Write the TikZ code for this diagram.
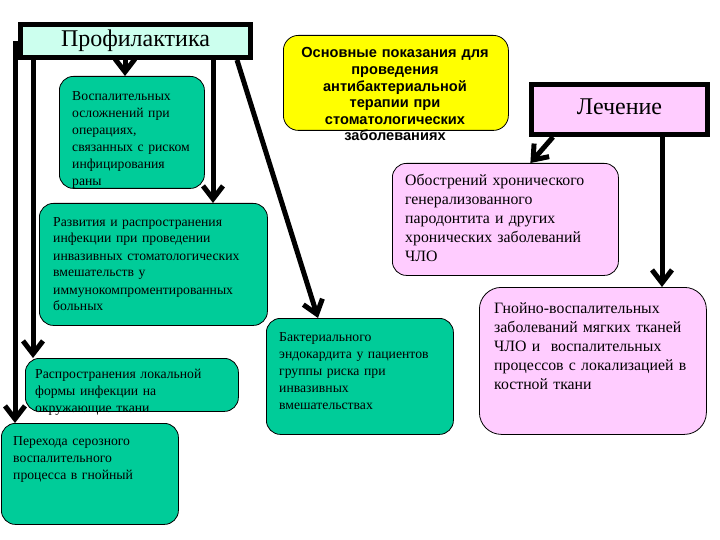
\documentclass[tikz,border=0pt]{standalone}
\usepackage{fontspec}
\setmainfont{Liberation Serif}
\setsansfont{Liberation Sans}
\usetikzlibrary{arrows.meta}
\definecolor{profcol}{RGB}{204,255,238}
\definecolor{tealcol}{RGB}{0,204,153}
\definecolor{pinkcol}{RGB}{255,204,255}
\definecolor{yelcol}{RGB}{255,255,0}
\begin{document}
\begin{tikzpicture}[x=1pt, y=-1pt, >={Straight Barb[length=13pt,width=20pt]},
  conn/.style={->, line width=5pt},
  head/.style={draw, line width=5pt, font=\fontsize{24}{28}\selectfont},
  card/.style={draw, line width=0.8pt, rounded corners=14pt, anchor=north west, inner sep=0pt},
  txt/.style={anchor=base west, inner sep=0pt, text width=240pt, align=left, font=\fontsize{13.7}{17}\selectfont},
  bigtxt/.style={anchor=base west, inner sep=0pt, text width=240pt, align=left, font=\fontsize{15.8}{19}\selectfont}]
\useasboundingbox (0,0) rectangle (720,540);

\node[head, fill=profcol, minimum width=230pt, minimum height=33pt] (prof) at (135.5,41) {Профилактика};
\node[head, fill=pinkcol, minimum width=176pt, minimum height=50pt] (lech) at (619.5,109.5) {\raisebox{5pt}{Лечение}};

\node[card, fill=yelcol, rounded corners=15pt, minimum width=225pt, minimum height=95pt] (osn) at (283,35) {};
\node[anchor=base, inner sep=0pt, text width=240pt, align=center, font=\sffamily\bfseries\fontsize{14.6}{16.6}\selectfont] (osntxt) at (395,58)
  {Основные показания для\\проведения\\антибактериальной\\терапии при\\стоматологических\\заболеваниях};

\node[card, fill=tealcol, minimum width=145pt, minimum height=112pt] (vosp) at (59,76) {};
\node[txt] (vosptxt) at (72,101) {Воспалительных\\осложнений при\\операциях,\\связанных с риском\\инфицирования\\раны};

\node[card, fill=tealcol, minimum width=228pt, minimum height=122pt] (razv) at (39,203) {};
\node[txt] (razvtxt) at (53,226) {Развития и распространения\\инфекции при проведении\\инвазивных стоматологических\\вмешательств у\\иммунокомпроментированных\\больных};

\node[card, fill=tealcol, minimum width=213pt, minimum height=53pt] (rasp) at (25,358) {};
\node[txt] (rasptxt) at (35,378) {Распространения локальной\\формы инфекции на\\окружающие ткани};

\node[card, fill=tealcol, minimum width=177pt, minimum height=101pt] (pereh) at (1,423) {};
\node[txt] (perehtxt) at (13,445) {Перехода серозного\\воспалительного\\процесса в гнойный};

\node[card, fill=tealcol, minimum width=187pt, minimum height=116pt] (bakt) at (266,318) {};
\node[txt] (bakttxt) at (279,341) {Бактериального\\эндокардита у пациентов\\группы риска при\\инвазивных\\вмешательствах};

\node[card, fill=pinkcol, minimum width=226pt, minimum height=112pt] (obost) at (392,163) {};
\node[bigtxt] (obosttxt) at (405,186) {Обострений хронического\\генерализованного\\пародонтита и других\\хронических заболеваний\\ЧЛО};

\node[card, fill=pinkcol, rounded corners=22pt, minimum width=227pt, minimum height=147pt] (gnoi) at (479,287) {};
\node[bigtxt] (gnoitxt) at (494,313) {Гнойно-воспалительных\\заболеваний мягких тканей\\ЧЛО и \ воспалительных\\процессов с локализацией в\\костной ткани};

\coordinate (xa) at (15,0);
\coordinate (xb) at (33,0);
\coordinate (xc) at (125,0);
\coordinate (xd) at (213,0);
\coordinate (xe) at (237,0);
\coordinate (xg) at (662,0);

\draw[conn] (prof.west -| xa) -- (pereh.north -| xa);
\draw[conn] (prof.south -| xb) -- (rasp.north -| xb);
\draw[conn] (prof.south -| xc) -- (vosp.north -| xc);
\draw[conn] (prof.south -| xd) -- (razv.north -| xd);
\draw[conn] (prof.south -| xe) -- ([xshift=52pt]bakt.north west);
\draw[conn] ([xshift=24pt]lech.south west) -- ([xshift=25pt]obost.north);
\draw[conn] (lech.south -| xg) -- (gnoi.north -| xg);
\end{tikzpicture}
\end{document}
